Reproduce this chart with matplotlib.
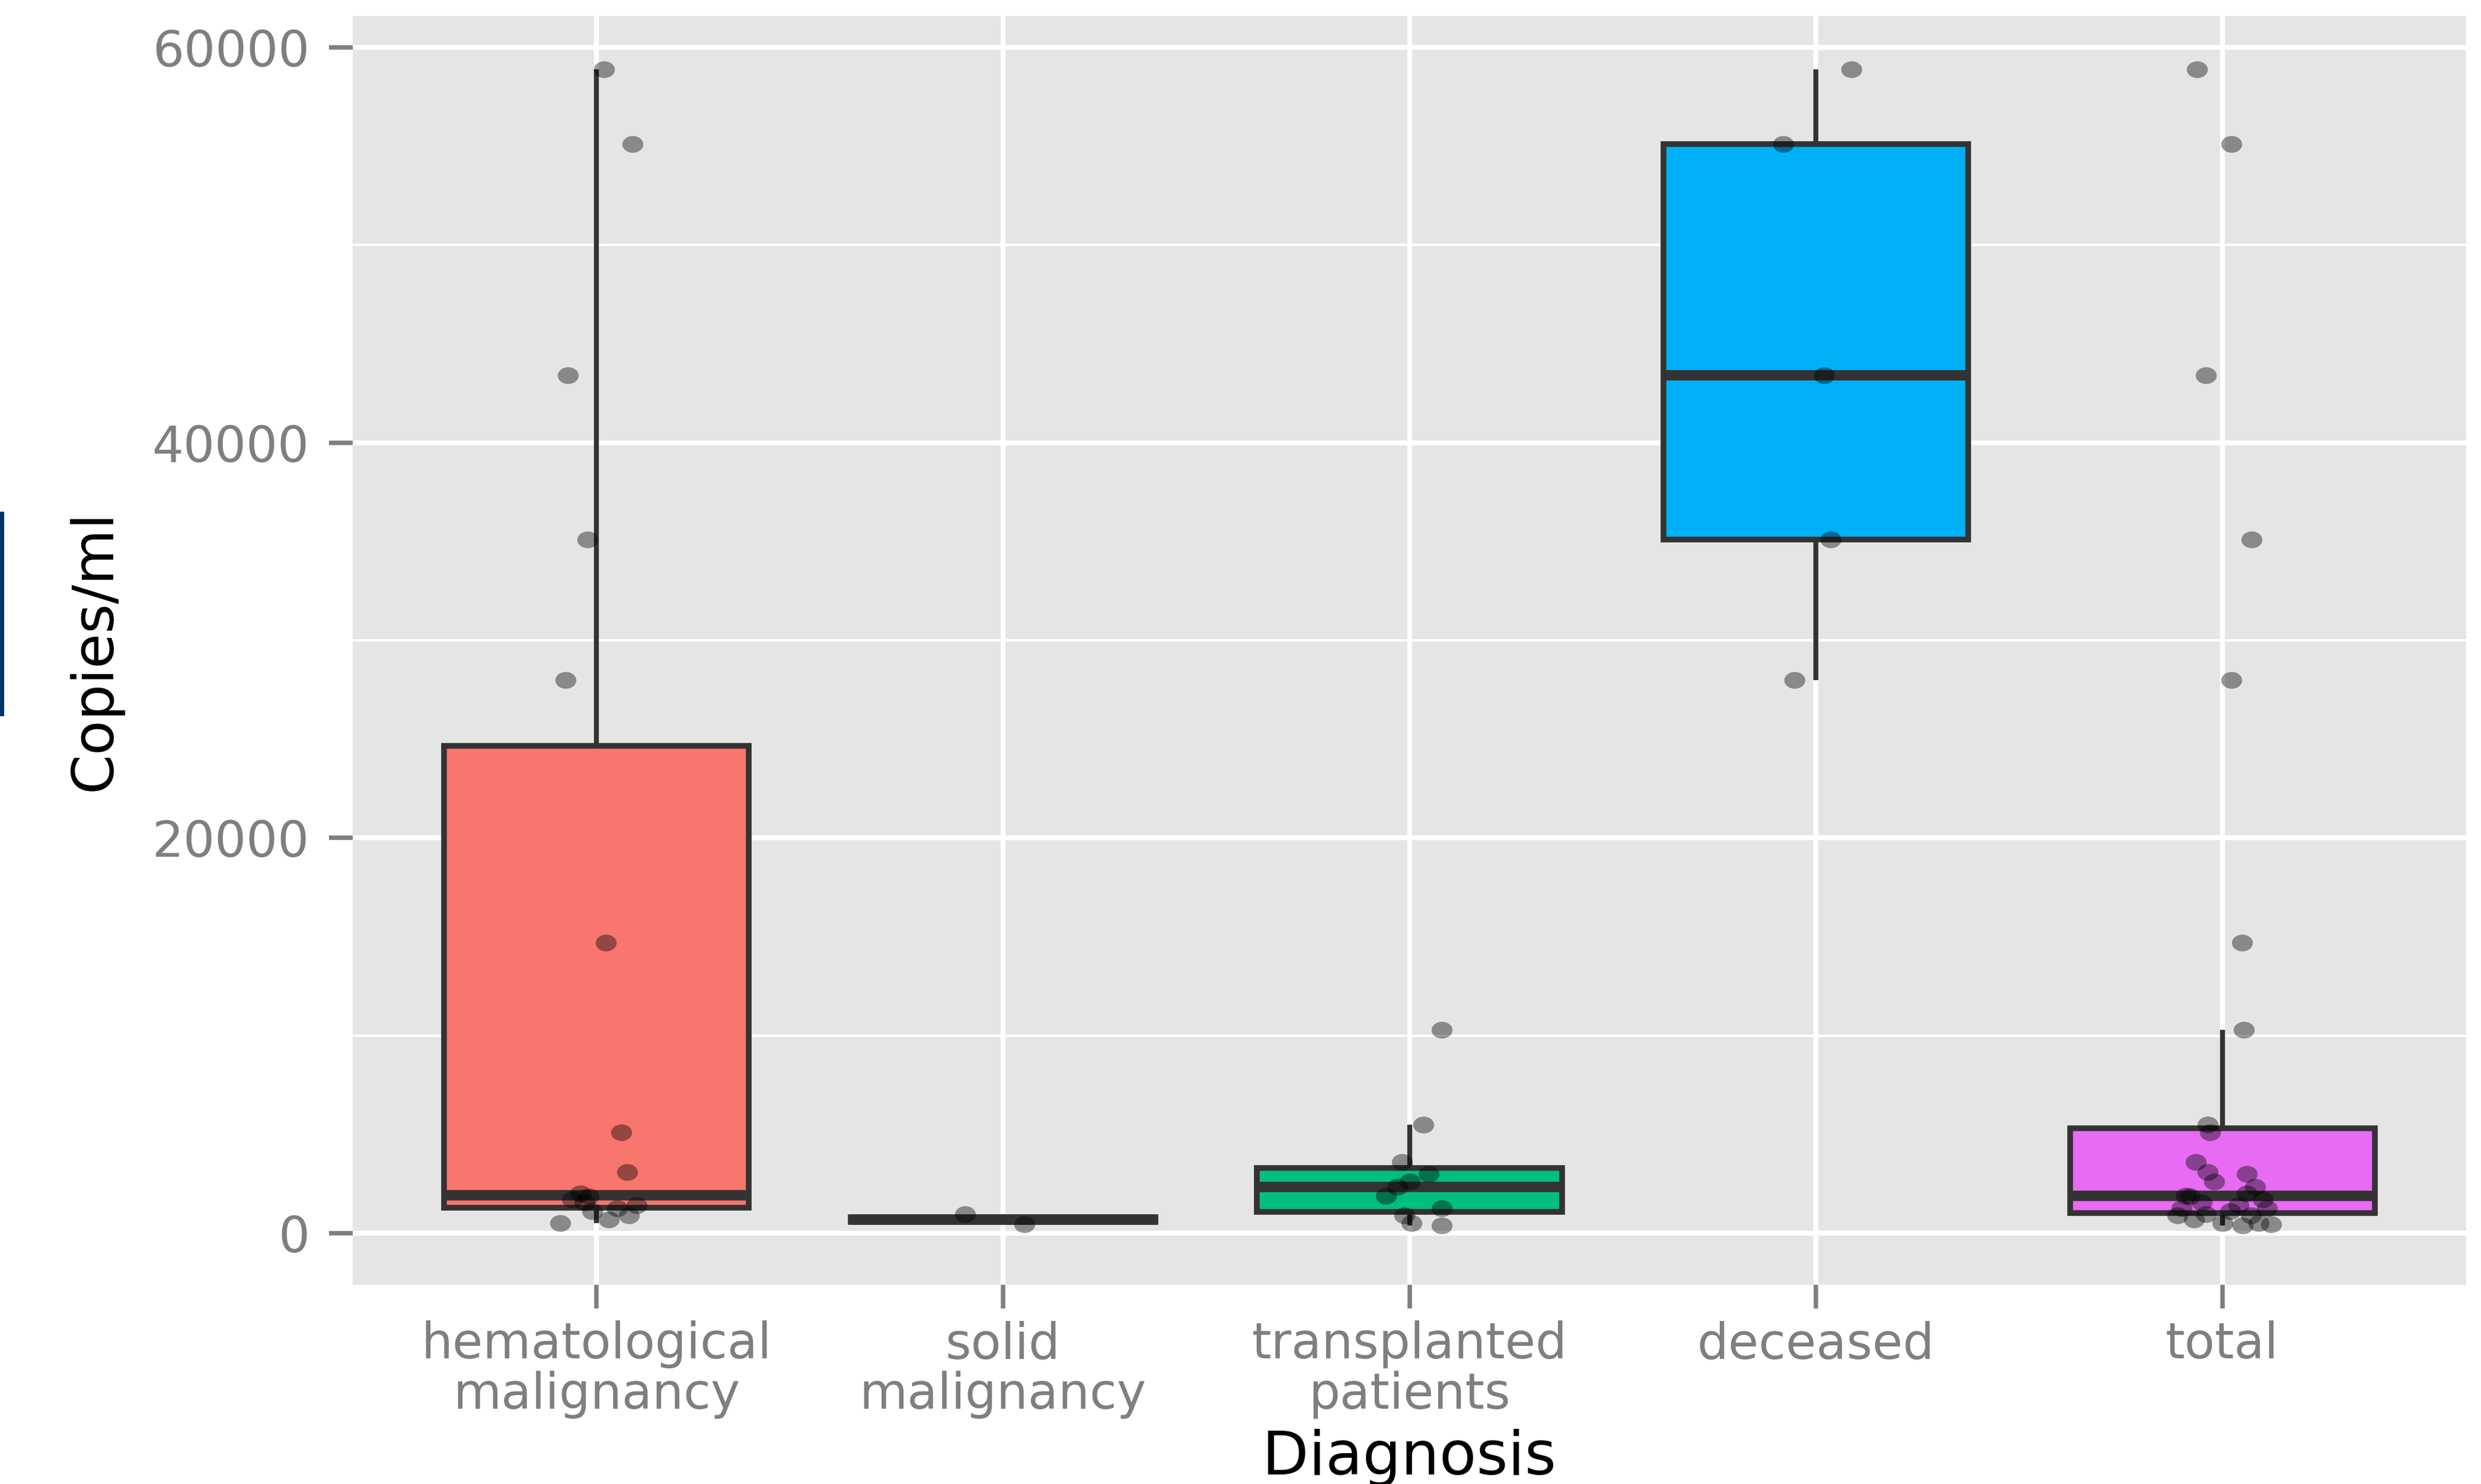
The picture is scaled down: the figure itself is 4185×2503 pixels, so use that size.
import matplotlib
matplotlib.use('Agg')
import matplotlib.pyplot as plt
import numpy as np
from matplotlib.patches import Rectangle
from matplotlib.path import Path
from matplotlib.transforms import Affine2D

# ---------------- data ----------------
categories = ['hematological\nmalignancy', 'solid\nmalignancy',
              'transplanted\npatients', 'deceased', 'total']
colors = ['#F8766D', '#A3A500', '#00BF7D', '#00B0F6', '#E76BF3']

hematological = [58900, 55100, 43400, 35100, 28000, 14700, 5100, 3100,
                 2000, 1850, 1700, 1550, 1400, 1250, 1100, 900, 700, 500]
solid = [950, 450]
transplanted = [10300, 5500, 3600, 3000, 2600, 2340, 1900, 1250, 900, 500, 400]
deceased = [58900, 55100, 43400, 35100, 28000]
total = hematological + transplanted + solid

# horizontal jitter offsets of the points (category units)
jit_hem = [0.018, 0.088, -0.070, -0.023, -0.077, 0.023, 0.061, 0.076,
           -0.04, -0.02, -0.06, -0.03, 0.098, 0.05, -0.01, 0.08, 0.03, -0.089]
jit_solid = [-0.093, 0.052]
jit_trans = [0.079, 0.034, -0.018, 0.047, 0.0, -0.03, -0.057, 0.079, -0.012, 0.005, 0.079]
jit_dec = [0.087, -0.080, 0.02, 0.037, -0.052]
jit_total = ([-0.062, 0.023, -0.040, 0.072, 0.023, 0.049, -0.03, -0.036,
              0.06, -0.08, 0.10, -0.05, 0.04, -0.10, 0.02, 0.07, -0.07, 0.09]
             + [0.053, -0.036, -0.065, 0.06, -0.02, 0.08, -0.09, 0.11, -0.11, 0.0, 0.05]
             + [-0.04, 0.12])

y_ticks = [0, 20000, 40000, 60000]
y_ticklabels = ['0', '20000', '40000', '60000']
y_minor = [10000, 30000, 50000]

# ---------------- figure ----------------
plt.rcParams['font.family'] = ['DejaVu Sans']
W, H, DPI = 4185, 2503, 300
fig = plt.figure(figsize=(W / DPI, H / DPI), dpi=DPI)
fig.patch.set_facecolor('white')
ax = fig.add_axes([595 / W, 1 - 2167 / H, (4160 - 595) / W, (2167 - 27) / H])
ax.set_facecolor('#E5E5E5')
for s in ax.spines.values():
    s.set_visible(False)

groups = [hematological, solid, transplanted, deceased, total]
jitters = [jit_hem, jit_solid, jit_trans, jit_dec, jit_total]
pos = np.arange(1, len(groups) + 1)

bp = ax.boxplot(groups, positions=pos, widths=0.75, patch_artist=True,
                showfliers=False, showcaps=False, whis=1.5, zorder=2,
                medianprops=dict(color='#333333', lw=4.2, solid_capstyle='butt'),
                boxprops=dict(edgecolor='#333333', lw=2.3),
                whiskerprops=dict(color='#333333', lw=2.0, solid_capstyle='butt'))
for patch, c in zip(bp['boxes'], colors):
    patch.set_facecolor(c)

# slightly wide elliptical dot (the reference image is stretched horizontally)
ell = Path.unit_circle().transformed(Affine2D().scale(1.25, 1.0))
for p, vals, jit in zip(pos, groups, jitters):
    ax.scatter(p + np.array(jit), vals, s=72, c='black', alpha=0.4,
               marker=ell, linewidths=0, zorder=4)

ax.set_xlim(0.4, 5.6)
ax.set_ylim(-2610, 61590)
ax.set_yticks(y_ticks)
ax.set_yticklabels(y_ticklabels)
ax.set_yticks(y_minor, minor=True)
ax.set_xticks(pos)
ax.set_xticklabels(categories)
ax.grid(which='major', color='white', lw=2.0)
ax.grid(which='minor', axis='y', color='white', lw=1.0)
ax.set_axisbelow(True)
ax.tick_params(axis='both', which='major', direction='out', length=9.5,
               width=1.8, color='#7F7F7F', labelcolor='#7F7F7F', labelsize=20)
ax.tick_params(axis='y', pad=8)
ax.tick_params(axis='x', pad=5)
ax.tick_params(which='minor', length=0)
for lbl in ax.get_xticklabels():
    lbl.set_linespacing(1.05)

fig.text(2377 / W, 1 - 2487 / H, 'Diagnosis', ha='center', va='baseline',
         fontsize=24.5, color='black')
fig.text(160 / W, 1 - 1097 / H, 'Copies/ml', rotation=90, ha='center',
         va='center', fontsize=23, color='black')

fig.patches.append(Rectangle((0, 1 - 1208 / H), 7 / W, 345 / H,
                             transform=fig.transFigure, facecolor='#003566',
                             edgecolor='none'))

fig.savefig('out.png', dpi=DPI)
